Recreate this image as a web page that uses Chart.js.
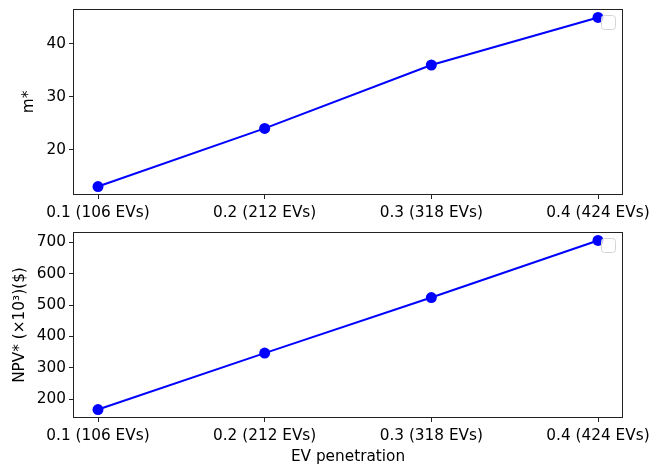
<!DOCTYPE html>
<html lang="en">
<head>
    <meta charset="UTF-8">
    <title>EV penetration</title>
    <script src="https://cdn.jsdelivr.net/npm/chart.js"></script>
    <style>
        body { margin: 0; background: #fff; }
        canvas { position: absolute; left: 0; }
    </style>
</head>
<body>
    <canvas id="topChart" width="651" height="226" style="top:0"></canvas>
    <canvas id="bottomChart" width="651" height="240" style="top:226px"></canvas>

    <script>
        const penetration = ['0.1 (106 EVs)', '0.2 (212 EVs)', '0.3 (318 EVs)', '0.4 (424 EVs)'];
        const mStar = [13, 24, 36, 45];
        const npvStar = [167, 347, 524, 706];
        const mTicks = [20, 30, 40];
        const npvTicks = [200, 300, 400, 500, 600, 700];

        const FONT = { family: 'DejaVu Sans', size: 15.3 };
        Chart.defaults.font = FONT;
        Chart.defaults.color = '#000';

        // matplotlib style frame + empty legend box
        const framePlugin = {
            id: 'frame',
            afterDraw(chart) {
                const a = chart.chartArea, ctx = chart.ctx;
                ctx.save();
                ctx.strokeStyle = '#222';
                ctx.lineWidth = 1;
                ctx.strokeRect(a.left + 0.5, a.top + 0.5, a.right - a.left - 1, a.bottom - a.top - 1);
                // empty legend frame
                const x = a.right - 22, y = a.top + 6, w = 14, h = 14, r = 3;
                ctx.strokeStyle = '#d5d5d5';
                ctx.fillStyle = 'rgba(255,255,255,0.8)';
                ctx.beginPath();
                ctx.roundRect(x + 0.5, y + 0.5, w, h, r);
                ctx.fill();
                ctx.stroke();
                ctx.restore();
            }
        };

        function makeChart(id, values, yTicks, yTitle, xTitle, xHeight, padTop, padLeft) {
            const lo = Math.min(...values), hi = Math.max(...values);
            const m = (hi - lo) * 0.05;
            return new Chart(document.getElementById(id), {
                type: 'line',
                data: {
                    datasets: [{
                        data: values.map((v, i) => ({ x: i, y: v })),
                        borderColor: '#0000ff',
                        backgroundColor: '#0000ff',
                        borderWidth: 2,
                        pointRadius: 5.5,
                        pointHoverRadius: 5.5,
                        pointBorderWidth: 0,
                        tension: 0
                    }]
                },
                options: {
                    responsive: false,
                    animation: false,
                    layout: { padding: { top: padTop, right: 28, left: padLeft, bottom: 0 } },
                    plugins: { legend: { display: false }, tooltip: { enabled: false } },
                    scales: {
                        x: {
                            type: 'linear',
                            min: -0.15,
                            max: penetration.length - 1 + 0.15,
                            afterBuildTicks: s => { s.ticks = penetration.map((_, i) => ({ value: i })); },
                            afterFit: s => { s.height = xHeight; s.paddingLeft = 0; s.paddingRight = 0; },
                            ticks: {
                                callback: v => penetration[v],
                                maxRotation: 0,
                                autoSkip: false,
                                padding: 5,
                                color: '#000'
                            },
                            grid: { drawOnChartArea: false, drawTicks: true, tickLength: 4, color: '#222' },
                            border: { display: false },
                            title: { display: !!xTitle, text: xTitle, padding: { top: 3, bottom: 0 }, color: '#000' }
                        },
                        y: {
                            min: lo - m,
                            max: hi + m,
                            afterBuildTicks: s => { s.ticks = yTicks.map(v => ({ value: v })); },
                            afterFit: s => { s.width = 73 - padLeft; s.paddingTop = 0; s.paddingBottom = 0; },
                            ticks: { padding: 3, color: '#000' },
                            grid: { drawOnChartArea: false, drawTicks: true, tickLength: 4, color: '#222' },
                            border: { display: false },
                            title: { display: true, text: yTitle, padding: 0, color: '#000' }
                        }
                    }
                },
                plugins: [framePlugin]
            });
        }

        makeChart('topChart', mStar, mTicks, 'm*', '', 31, 9, 20);
        makeChart('bottomChart', npvStar, npvTicks, 'NPV* (×10³)($)', 'EV penetration', 48, 6, 11);
    </script>
</body>
</html>
